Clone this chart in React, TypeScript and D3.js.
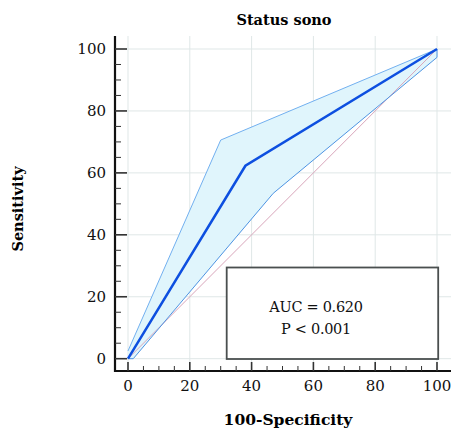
import React from "react";
import * as d3 from "d3";

// ROC curve and its confidence band
const rocX = [0, 38, 100];
const rocY = [0, 62.3, 100];
const upperX = [0, 30, 100];
const upperY = [2.5, 70.6, 100];
const lowerX = [0, 1.7, 47, 100, 100];
const lowerY = [0, 0, 53.4, 97.3, 100];
const diagX = [0, 100];
const diagY = [0, 100];

const majorTicks = [0, 20, 40, 60, 80, 100];
const minorTicks = d3.range(0, 101, 5).filter((v) => v % 20 !== 0);

const title = "Status sono";
const xTitle = "100-Specificity";
const yTitle = "Sensitivity";
const statLines = ["AUC = 0.620", "P < 0.001"];

const W = 455;
const H = 431;
const font = "'DejaVu Serif', serif";

const x = d3.scaleLinear().domain([0, 100]).range([128, 437]);
const y = d3.scaleLinear().domain([0, 100]).range([358.7, 49]);

const axisX = 115; // y-axis line position
const axisY = 371; // x-axis line position

const pts = (xs: number[], ys: number[]) => xs.map((v, i) => [v, ys[i]] as [number, number]);

const line = d3
  .line<[number, number]>()
  .x((d) => x(d[0]))
  .y((d) => y(d[1]));

export default function App() {
  const upper = pts(upperX, upperY);
  const lower = pts(lowerX, lowerY);
  const band = upper.concat(lower.slice().reverse());

  return (
    <svg width={W} height={H} style={{ position: "absolute", left: 0, top: 0, background: "#fff" }}>
      {/* grid */}
      <g stroke="#dfe7e7" strokeWidth={1}>
        {majorTicks.map((t) => (
          <line key={"gx" + t} x1={x(t)} x2={x(t)} y1={36} y2={axisY} />
        ))}
        {majorTicks.map((t) => (
          <line key={"gy" + t} x1={axisX} x2={451} y1={y(t)} y2={y(t)} />
        ))}
      </g>

      {/* confidence band */}
      <path d={line(band) + "Z"} fill="#e0f5fc" stroke="none" />
      <path d={line(pts(diagX, diagY)) || ""} fill="none" stroke="#d9a6bb" strokeWidth={1} />
      <path d={line(lower) || ""} fill="none" stroke="#4d94e3" strokeWidth={1} />
      <path d={line(upper) || ""} fill="none" stroke="#72b0f0" strokeWidth={1} />
      <path d={line(pts(rocX, rocY)) || ""} fill="none" stroke="#0d4fe0" strokeWidth={2.5} />

      {/* stats box */}
      <rect x={226.7} y={267.5} width={211.5} height={91.5} fill="#fff" stroke="#4a4f4f" strokeWidth={1.8} />
      {statLines.map((s, i) => (
        <text key={s} x={316} y={311.7 + i * 22.3} textAnchor="middle" fontFamily={font} fontSize={14.5} letterSpacing={-0.3} fill="#111">
          {s}
        </text>
      ))}

      {/* axes */}
      <g stroke="#111">
        <line x1={axisX} x2={axisX} y1={36} y2={axisY + 1} strokeWidth={2.2} />
        <line x1={axisX - 1} x2={451} y1={axisY} y2={axisY} strokeWidth={2.2} />
        {majorTicks.map((t) => (
          <line key={"ty" + t} x1={axisX} x2={axisX + 12} y1={y(t)} y2={y(t)} strokeWidth={1.6} stroke="#333" />
        ))}
        {minorTicks.map((t) => (
          <line key={"my" + t} x1={axisX} x2={axisX + 6} y1={y(t)} y2={y(t)} strokeWidth={1} stroke="#333" />
        ))}
        {majorTicks.map((t) => (
          <line key={"tx" + t} x1={x(t)} x2={x(t)} y1={axisY} y2={axisY - 9} strokeWidth={1.6} stroke="#333" />
        ))}
        {minorTicks.map((t) => (
          <line key={"mx" + t} x1={x(t)} x2={x(t)} y1={axisY} y2={axisY - 5} strokeWidth={1} stroke="#333" />
        ))}
      </g>

      {/* tick labels */}
      {majorTicks.map((t) => (
        <text key={"ly" + t} x={106} y={y(t) + 5} textAnchor="end" fontFamily={font} fontSize={15} fill="#111">
          {t}
        </text>
      ))}
      {majorTicks.map((t) => (
        <text key={"lx" + t} x={x(t)} y={391} textAnchor="middle" fontFamily={font} fontSize={15} fill="#111">
          {t}
        </text>
      ))}

      {/* titles */}
      <text x={284} y={25} textAnchor="middle" fontFamily={font} fontWeight="bold" fontSize={14.5} fill="#000">
        {title}
      </text>
      <text x={288} y={425} textAnchor="middle" fontFamily={font} fontWeight="bold" fontSize={15.5} fill="#000">
        {xTitle}
      </text>
      <text
        transform={`translate(23,209) rotate(-90)`}
        textAnchor="middle"
        fontFamily={font}
        fontWeight="bold"
        fontSize={14.5}
        fill="#000"
      >
        {yTitle}
      </text>
    </svg>
  );
}
